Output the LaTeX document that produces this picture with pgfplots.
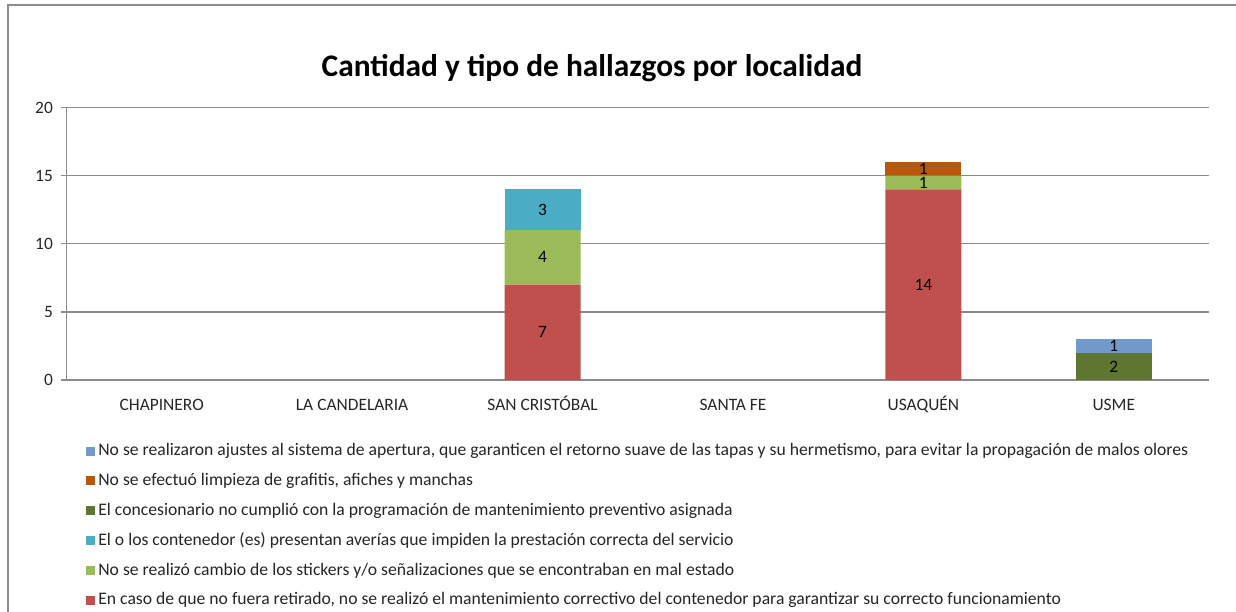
\documentclass[border=0pt]{standalone}
\usepackage{fontspec}
\setmainfont{Carlito}
\usepackage{pgfplots}
\usepackage{pgfplotstable}
\pgfplotsset{compat=1.18}

\definecolor{sBlue}{HTML}{7199CA}
\definecolor{sOrange}{HTML}{B8560A}
\definecolor{sDkGreen}{HTML}{5F7630}
\definecolor{sCyan}{HTML}{4BACC6}
\definecolor{sGreen}{HTML}{9BBB59}
\definecolor{sRed}{HTML}{C0504D}
\definecolor{frame}{HTML}{8C8C8C}

% categories at 0..5: CHAPINERO, LA CANDELARIA, SAN CRISTOBAL, SANTA FE, USAQUEN, USME
\pgfplotstableread{
x red green cyan dkgreen orange blue
0 0  0 0 0 0 0
1 0  0 0 0 0 0
2 7  4 3 0 0 0
3 0  0 0 0 0 0
4 14 1 0 0 1 0
5 0  0 0 2 0 1
}\hallazgos

\begin{document}
\begin{tikzpicture}[x=1pt,y=1pt]
\useasboundingbox (0,0) rectangle (618,305.5);
\draw[frame, line width=0.8pt] (4,-2) -- (4,303) -- (620,303);
\node[font=\bfseries\fontsize{15.7}{17}\selectfont, text=black] at (296,271.5) {Cantidad y tipo de hallazgos por localidad};
\begin{axis}[
    at={(33.25pt,115.5pt)}, anchor=south west,
    scale only axis,
    width=571.25pt, height=136.25pt,
    ybar stacked,
    bar width=38pt,
    xmin=-0.5, xmax=5.5,
    ymin=0, ymax=20,
    ytick={0,5,10,15,20},
    xtick={0,...,5},
    xticklabels={CHAPINERO, LA CANDELARIA, SAN CRISTÓBAL, SANTA FE, USAQUÉN, USME},
    extra x ticks={-0.5,0.5,1.5,2.5,3.5,4.5,5.5},
    extra x tick labels={},
    extra x tick style={major tick length=2.8pt, tick style={black!50, line width=0.6pt}},
    axis lines=left,
    axis line style={-, black!45, line width=0.7pt},
    ymajorgrids,
    grid style={black!45, line width=0.7pt},
    tick align=outside,
    xtick style={draw=none},
    ytick style={black!45, line width=0.7pt},
    major tick length=2.8pt,
    /pgf/number format/assume math mode=true,
    tick label style={font=\fontsize{8.7}{10}\selectfont, text=black!85},
    yticklabel style={xshift=-0.5pt},
    xticklabel style={text height=5.8pt, text depth=0pt, yshift=-2.9pt},
    point meta=explicit symbolic,
    nodes near coords={\ifdim\pgfplotspointmeta pt=0pt\else\pgfplotspointmeta\fi},
    every node near coord/.append style={font=\fontsize{8.7}{10}\selectfont, text=black, anchor=center},
    reverse legend,
    legend cell align=left,
    legend style={draw=none, at={(0.5,-0.228)}, anchor=north, inner sep=0pt,
        font=\fontsize{8.82}{10}\selectfont, text=black!85, row sep=6.2pt,
        nodes={inner sep=0.5pt}},
    legend image code/.code={\fill[#1] (0pt,-2.25pt) rectangle (4.5pt,2.25pt); \path (5.5pt,0pt);},
]
\addplot[fill=sRed, draw=none] table[x=x, y=red, meta=red] {\hallazgos};
\addplot[fill=sGreen, draw=none] table[x=x, y=green, meta=green] {\hallazgos};
\addplot[fill=sCyan, draw=none] table[x=x, y=cyan, meta=cyan] {\hallazgos};
\addplot[fill=sDkGreen, draw=none] table[x=x, y=dkgreen, meta=dkgreen] {\hallazgos};
\addplot[fill=sOrange, draw=none] table[x=x, y=orange, meta=orange] {\hallazgos};
\addplot[fill=sBlue, draw=none] table[x=x, y=blue, meta=blue] {\hallazgos};
\legend{
  En caso de que no fuera retirado{,} no se realizó el mantenimiento correctivo del contenedor para garantizar su correcto funcionamiento,
  No se realizó cambio de los stickers y/o señalizaciones que se encontraban en mal estado,
  El o los contenedor (es) presentan averías que impiden la prestación correcta del servicio,
  El concesionario no cumplió con la programación de mantenimiento preventivo asignada,
  No se efectuó limpieza de grafitis{,} afiches y manchas,
  No se realizaron ajustes al sistema de apertura{,} que garanticen el retorno suave de las tapas y su hermetismo{,} para evitar la propagación de malos olores
}
\end{axis}
\end{tikzpicture}
\end{document}
